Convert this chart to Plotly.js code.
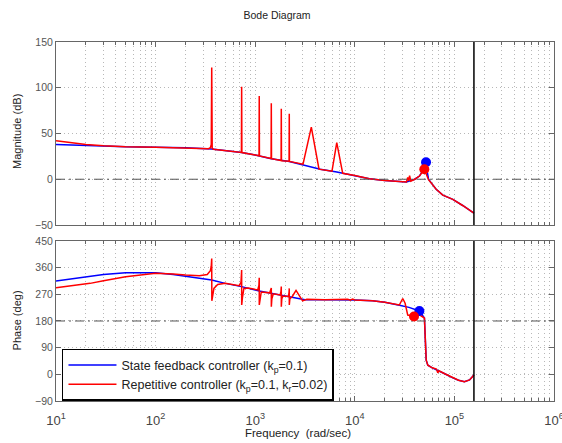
<!DOCTYPE html>
<html>
<head>
<meta charset="utf-8">
<script src="https://cdn.plot.ly/plotly-3.0.1.min.js"></script>
<style>html,body{margin:0;padding:0;background:#fff;}#chart{width:562px;height:443px;}</style>
</head>
<body>
<div id="chart"></div>
<script>
// ---- Data ----
const seriesNames = ["State feedback controller (k<sub>p</sub>=0.1)", "Repetitive controller (k<sub>p</sub>=0.1, k<sub>r</sub>=0.02)"];

// State feedback: magnitude (dB)
const sfMagFreq = [10, 15, 20, 30, 50, 100, 200, 366, 500, 731, 1000, 1450, 2200, 3000, 4500, 6600, 10000, 14000, 20000, 28000, 33000, 40000, 44600, 48000, 50000, 51900, 53000, 55000, 58500, 65600, 76500, 96400, 121000, 151000, 157080];
const sfMag     = [38, 37.3, 36.7, 36, 35.4, 35, 34.4, 33, 31.5, 29.2, 26.5, 22.5, 19.5, 16, 11, 8, 4, 0.5, -1.5, -2.8, -3, 0, 3.5, 9, 14, 19, 10, 0, -4, -11, -17.4, -22, -28.7, -36, -37];

// Repetitive controller: magnitude (dB)
const rcMagFreq = [10, 15, 20, 30, 50, 100, 200, 340, 355, 362, 366, 370, 380, 500, 727, 731, 735, 1000, 1093, 1098, 1103, 1444, 1451, 1458, 1820, 1828, 1836, 2188, 2198, 2208, 3020, 3660, 4370, 5900, 6590, 7560, 10000, 14000, 20000, 28000, 33000, 34000, 34700, 35500, 36500, 40000, 44600, 47000, 49900, 52000, 55000, 58500, 65600, 76500, 96400, 121000, 151000, 157080];
const rcMag     = [42, 39.5, 38, 36.6, 35.5, 35, 34.4, 33.3, 34.5, 38, 122, 34, 32.8, 31.5, 29.3, 101, 29.1, 26.5, 25.7, 91, 25.4, 22.6, 83, 22.4, 20.4, 77, 20.2, 19.6, 71.6, 19.4, 16.5, 57, 11, 8.8, 40, 6.5, 4, 0.5, -1.5, -2.8, -3, 2, -2, 4, -2, 0, 3.5, 7, 11.5, 6, -0.5, -4, -11, -17.4, -22, -28.7, -36, -37];

// State feedback: phase (deg)
const sfPhaseFreq = [10, 15, 20, 30, 50, 70, 100, 150, 200, 275, 366, 500, 731, 1098, 1451, 2198, 3160, 5000, 7000, 10000, 15000, 20000, 28000, 35000, 44500, 48000, 50000, 52100, 54100, 60000, 68100, 80000, 96400, 110000, 126000, 142000, 150000, 157080];
const sfPhase     = [315, 324, 330, 337, 343, 344, 343, 337, 331, 326, 318, 307, 296, 281, 273.5, 262, 252, 252, 252, 251, 248, 243, 233, 226, 214, 200, 190, 48, 31, 22, 12, 2, -12, -20, -25, -19, -10, -2];

// Repetitive controller: phase (deg)
const rcPhaseFreq = [10, 15, 22, 30, 50, 100, 150, 200, 275, 330, 355, 362, 366, 367, 372, 385, 420, 500, 690, 720, 731, 732, 745, 770, 850, 1060, 1090, 1098, 1099, 1115, 1150, 1400, 1440, 1451, 1452, 1470, 1520, 1780, 1815, 1828, 1829, 1850, 1900, 2150, 2185, 2198, 2199, 2230, 2350, 2570, 2990, 3300, 5000, 8500, 9000, 9500, 10000, 15000, 20000, 28000, 30300, 32000, 34000, 39300, 45000, 50000, 52100, 54100, 60000, 66000, 68100, 70000, 80000, 96400, 110000, 126000, 142000, 150000, 157080];
const rcPhase     = [292, 300, 307, 316, 329.5, 341, 339, 335, 333, 337, 350, 365, 391, 248, 262, 290, 303, 307, 299, 310, 352, 234, 260, 290, 291, 285, 300, 326, 234, 255, 278, 275, 285, 291, 228, 255, 272, 268, 280, 296, 228, 255, 264, 263, 275, 290, 234, 255, 262, 283, 248, 253, 252, 253, 250, 254, 251, 248, 243, 234, 256, 240, 200, 196, 200, 190, 48, 31, 22, 18, 5, 12, 2, -12, -20, -25, -19, -10, -2];

// Margin markers
const sfMagMarker = {f: [51900], v: [18.5]};
const rcMagMarker = {f: [49900], v: [11]};
const sfPhaseMarker = {f: [44500], v: [214]};
const rcPhaseMarker = {f: [39300], v: [195]};

// Reference levels, frequency span, Nyquist frequency, tick labels
const freqSpan = [10, 1000000];
const magRef = [0, 0];
const phaseRef = [180, 180];
const nyquist = 157080;
const magTicks = [-50, 0, 50, 100, 150];
const phaseTicks = [-90, 0, 90, 180, 270, 360, 450];
const freqTicks = [10, 100, 1000, 10000, 100000, 1000000];
const freqTickText = ['10<sup>1</sup>', '10<sup>2</sup>', '10<sup>3</sup>', '10<sup>4</sup>', '10<sup>5</sup>', '10<sup>6</sup>'];

// ---- Styling ----
const BLUE = '#0000ff', RED = '#ff0000';
const FONT = 'Liberation Sans, Arial, Helvetica, sans-serif';
const frameCol = '#666';
const gridCol = '#b8b8b8';
const gridDash = '1px,3px';

const traces = [
  {x: sfMagFreq, y: sfMag, xaxis: 'x', yaxis: 'y', mode: 'lines', name: seriesNames[0], line: {color: BLUE, width: 1.5}, showlegend: true},
  {x: rcMagFreq, y: rcMag, xaxis: 'x', yaxis: 'y', mode: 'lines', name: seriesNames[1], line: {color: RED, width: 1.5}, showlegend: true},
  {x: sfPhaseFreq, y: sfPhase, xaxis: 'x2', yaxis: 'y2', mode: 'lines', line: {color: BLUE, width: 1.5}, showlegend: false},
  {x: rcPhaseFreq, y: rcPhase, xaxis: 'x2', yaxis: 'y2', mode: 'lines', line: {color: RED, width: 1.5}, showlegend: false},
  {x: freqSpan, y: magRef, xaxis: 'x', yaxis: 'y', mode: 'lines', line: {color: '#555', width: 1, dash: '9px,4px,2px,4px'}, showlegend: false},
  {x: freqSpan, y: phaseRef, xaxis: 'x2', yaxis: 'y2', mode: 'lines', line: {color: '#555', width: 1, dash: '9px,4px,2px,4px'}, showlegend: false},
  {x: sfMagMarker.f, y: sfMagMarker.v, xaxis: 'x', yaxis: 'y', mode: 'markers', marker: {color: BLUE, size: 10}, showlegend: false},
  {x: rcMagMarker.f, y: rcMagMarker.v, xaxis: 'x', yaxis: 'y', mode: 'markers', marker: {color: RED, size: 10}, showlegend: false},
  {x: sfPhaseMarker.f, y: sfPhaseMarker.v, xaxis: 'x2', yaxis: 'y2', mode: 'markers', marker: {color: BLUE, size: 10}, showlegend: false},
  {x: rcPhaseMarker.f, y: rcPhaseMarker.v, xaxis: 'x2', yaxis: 'y2', mode: 'markers', marker: {color: RED, size: 10}, showlegend: false}
];

function xAxisCfg(anchor, labels) {
  return {
    type: 'log', range: [1, 6], anchor: anchor,
    tickmode: 'array', tickvals: freqTicks, ticktext: freqTickText,
    showticklabels: labels, ticklabeloverflow: 'allow', ticklabelstandoff: 7,
    tickfont: {family: FONT, size: 13, color: '#444'},
    ticks: 'inside', ticklen: 5, tickcolor: frameCol,
    showline: true, linecolor: frameCol, linewidth: 1, mirror: 'allticks',
    showgrid: true, gridcolor: gridCol, griddash: gridDash, gridwidth: 1,
    minor: {dtick: 'D1', ticks: 'inside', ticklen: 3, tickcolor: frameCol, showgrid: true, gridcolor: gridCol, griddash: gridDash, gridwidth: 1},
    zeroline: false
  };
}
function yAxisCfg(anchor, domain, range, ticks) {
  return {
    domain: domain, range: range, anchor: anchor, tickvals: ticks,
    tickfont: {family: FONT, size: 10.5, color: '#555'},
    ticks: 'inside', ticklen: 5, tickcolor: frameCol,
    showline: true, linecolor: frameCol, linewidth: 1, mirror: 'allticks',
    showgrid: true, gridcolor: gridCol, griddash: gridDash, gridwidth: 1,
    zeroline: false
  };
}

const layout = {
  width: 562, height: 443,
  margin: {l: 56, r: 8, t: 42, b: 42},
  paper_bgcolor: '#fff', plot_bgcolor: '#fff',
  font: {family: FONT, color: '#222'},
  title: {text: 'Bode Diagram', font: {family: FONT, size: 10.5, color: '#222'}, xref: 'container', x: 0.493, xanchor: 'center', yref: 'container', y: 0.966, yanchor: 'middle'},
  xaxis: xAxisCfg('y', false),
  xaxis2: xAxisCfg('y2', true),
  yaxis: yAxisCfg('x', [0.4903, 1], [-50, 150], magTicks),
  yaxis2: yAxisCfg('x2', [0, 0.4457], [-90, 450], phaseTicks),
  showlegend: true,
  legend: {
    x: 0.012, y: 0.145, xanchor: 'left', yanchor: 'top',
    bgcolor: '#fff', bordercolor: '#000', borderwidth: 1.5,
    font: {family: FONT, size: 12.5, color: '#222'},
    itemwidth: 48, tracegroupgap: 0
  },
  shapes: [
    {type: 'line', xref: 'x', yref: 'y domain', x0: nyquist, x1: nyquist, y0: 0, y1: 1, line: {color: '#000', width: 1.5}},
    {type: 'line', xref: 'x2', yref: 'y2 domain', x0: nyquist, x1: nyquist, y0: 0, y1: 1, line: {color: '#000', width: 1.5}}
  ],
  annotations: [
    {text: 'Magnitude (dB)', xref: 'paper', yref: 'paper', x: -0.078, y: 0.75, xanchor: 'center', yanchor: 'middle', textangle: -90, showarrow: false, font: {family: FONT, size: 11, color: '#222'}},
    {text: 'Phase (deg)', xref: 'paper', yref: 'paper', x: -0.078, y: 0.225, xanchor: 'center', yanchor: 'middle', textangle: -90, showarrow: false, font: {family: FONT, size: 11, color: '#222'}},
    {text: 'Frequency  (rad/sec)', xref: 'paper', yref: 'paper', x: 0.485, y: -0.089, xanchor: 'center', yanchor: 'middle', showarrow: false, font: {family: FONT, size: 11.5, color: '#222'}}
  ]
};

Plotly.newPlot('chart', traces, layout, {displayModeBar: false, staticPlot: true});
</script>
</body>
</html>
